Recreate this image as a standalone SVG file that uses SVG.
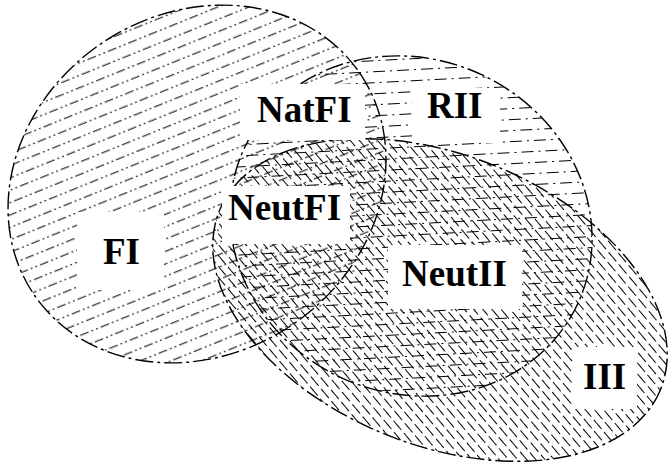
<svg xmlns="http://www.w3.org/2000/svg" width="671" height="465" viewBox="0 0 671 465">
<style>
.outline{fill:none;stroke:#000;stroke-width:1.4;stroke-dasharray:18 4 3 4}
.box{fill:#fff;stroke:none}
.lbl{font-family:"Liberation Serif","Times New Roman",serif;font-weight:bold;font-size:37px;fill:#000}
.hl{stroke:#000;stroke-width:1.1}
</style>
<defs>
<pattern id="hFI" patternUnits="userSpaceOnUse" width="44" height="23" patternTransform="rotate(12)">
<line class="hl" x1="0" y1="5.75" x2="44" y2="5.75" stroke-dasharray="9 3 2 3 2 3"/>
<line class="hl" x1="0" y1="17.25" x2="44" y2="17.25" stroke-dasharray="9 3 2 3 2 3" stroke-dashoffset="11"/>
</pattern>
<pattern id="hRII" patternUnits="userSpaceOnUse" width="48" height="22" patternTransform="rotate(-28)">
<line class="hl" x1="0" y1="5.5" x2="48" y2="5.5" stroke-dasharray="12 5 2 5"/>
<line class="hl" x1="0" y1="16.5" x2="48" y2="16.5" stroke-dasharray="12 5 2 5" stroke-dashoffset="13"/>
</pattern>
<pattern id="hIII" patternUnits="userSpaceOnUse" width="32" height="14" patternTransform="rotate(28)">
<line class="hl" x1="0" y1="3.5" x2="32" y2="3.5" stroke-dasharray="12 4"/>
<line class="hl" x1="0" y1="10.5" x2="32" y2="10.5" stroke-dasharray="12 4" stroke-dashoffset="7"/>
</pattern>
</defs>
<rect width="671" height="465" fill="#fff"/>
<g id="sets">
<g id="set-FI"><ellipse cx="197" cy="184" rx="197" ry="170" transform="rotate(-34 197 184)" fill="url(#hFI)"/></g>
<g id="set-RII"><ellipse cx="411" cy="226" rx="184" ry="167" transform="rotate(25 411 226)" fill="url(#hRII)"/></g>
<g id="set-III"><ellipse cx="440" cy="300" rx="238" ry="145" transform="rotate(22 440 300)" fill="url(#hIII)"/></g>
</g>
<g id="outlines">
<ellipse class="outline" cx="197" cy="184" rx="197" ry="170" transform="rotate(-34 197 184)"/>
<ellipse class="outline" cx="411" cy="226" rx="184" ry="167" transform="rotate(25 411 226)"/>
<ellipse class="outline" cx="440" cy="300" rx="238" ry="145" transform="rotate(22 440 300)"/>
</g>
<g id="connectors"/>
<g id="label-NatFI"><rect class="box" x="240" y="84" width="125" height="56"/><text class="lbl" x="257" y="122">NatFI</text></g>
<g id="label-RII"><rect class="box" x="412" y="88" width="88" height="55"/><text class="lbl" x="427" y="118">RII</text></g>
<g id="label-NeutFI"><rect class="box" x="222" y="186" width="128" height="58"/><text class="lbl" x="228" y="220">NeutFI</text></g>
<g id="label-FI"><rect class="box" x="77" y="212" width="87" height="78"/><text class="lbl" x="103" y="264">FI</text></g>
<g id="label-NeutII"><rect class="box" x="388" y="245" width="134" height="64"/><text class="lbl" x="402" y="286">NeutII</text></g>
<g id="label-III"><rect class="box" x="573" y="347" width="64" height="62"/><text class="lbl" x="583" y="389">III</text></g>
</svg>
